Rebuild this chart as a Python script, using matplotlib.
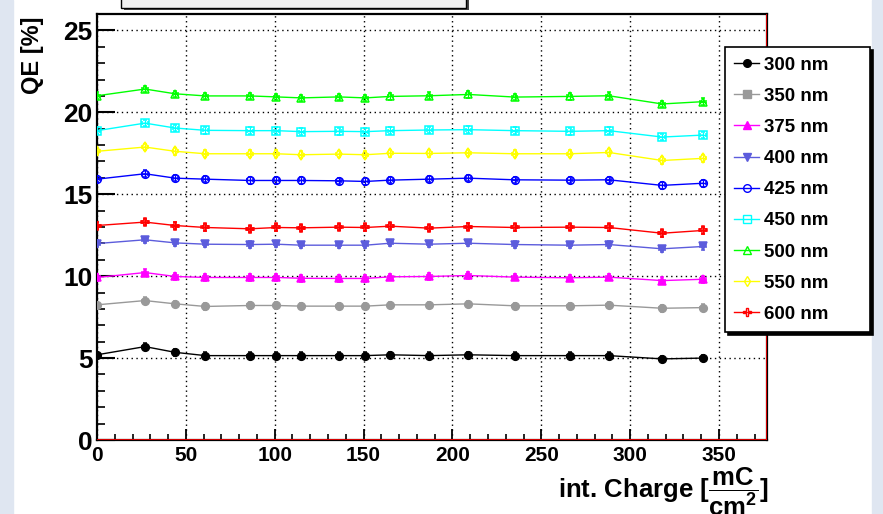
import matplotlib
matplotlib.use("Agg")
import matplotlib.pyplot as plt
import numpy as np
from matplotlib.lines import Line2D
from matplotlib.patches import Rectangle
from matplotlib.ticker import MultipleLocator

plt.rcParams.update({
    "font.family": ["Liberation Sans", "DejaVu Sans"],
    "font.weight": "bold",
    "mathtext.fontset": "custom",
    "mathtext.rm": "Liberation Sans:bold",
    "mathtext.bf": "Liberation Sans:bold",
    "mathtext.it": "Liberation Sans:bold",
})

charge = [0, 27, 44, 61, 86, 101, 115, 136, 151, 165, 187, 209, 235, 266, 288, 318, 341]

qe_300 = [5.20, 5.70, 5.35, 5.15, 5.15, 5.15, 5.15, 5.15, 5.15, 5.20, 5.15, 5.20, 5.15, 5.15, 5.15, 4.95, 5.00]
qe_350 = [8.25, 8.51, 8.31, 8.15, 8.21, 8.21, 8.17, 8.17, 8.17, 8.25, 8.25, 8.31, 8.19, 8.19, 8.23, 8.04, 8.08]
qe_375 = [9.92, 10.22, 9.98, 9.92, 9.92, 9.92, 9.87, 9.86, 9.86, 9.96, 9.98, 10.04, 9.94, 9.90, 9.94, 9.73, 9.81]
qe_400 = [11.99, 12.22, 12.03, 11.95, 11.93, 11.95, 11.89, 11.89, 11.89, 12.01, 11.95, 12.01, 11.93, 11.89, 11.93, 11.67, 11.81]
qe_425 = [15.92, 16.25, 15.98, 15.92, 15.84, 15.84, 15.84, 15.82, 15.78, 15.86, 15.92, 15.98, 15.88, 15.86, 15.88, 15.54, 15.67]
qe_450 = [18.88, 19.34, 19.04, 18.90, 18.88, 18.88, 18.82, 18.84, 18.82, 18.88, 18.92, 18.94, 18.88, 18.84, 18.88, 18.49, 18.61]
qe_500 = [21.01, 21.42, 21.13, 21.00, 21.00, 20.94, 20.88, 20.94, 20.88, 20.97, 21.01, 21.09, 20.93, 20.97, 21.01, 20.51, 20.65]
qe_550 = [17.62, 17.88, 17.62, 17.47, 17.47, 17.47, 17.41, 17.45, 17.41, 17.50, 17.49, 17.53, 17.47, 17.47, 17.55, 17.06, 17.19]
qe_600 = [13.09, 13.30, 13.09, 12.97, 12.89, 12.97, 12.95, 12.99, 12.97, 13.05, 12.93, 13.03, 12.97, 12.99, 12.97, 12.62, 12.79]

labels = ["300 nm", "350 nm", "375 nm", "400 nm", "425 nm", "450 nm", "500 nm", "550 nm", "600 nm"]
series = [qe_300, qe_350, qe_375, qe_400, qe_425, qe_450, qe_500, qe_550, qe_600]
colors = ["black", "#999999", "#ff00ff", "#5c5cdc", "#0000ff", "#00ffff", "#00ff00", "#ffff00", "#ff0000"]
markers = ["o", "s", "^", "v", "o", "s", "^", "d", "P"]
filled = [True, True, True, True, False, False, False, False, False]
plot_markers = ["o", "o", "^", "v", "o", "s", "^", "d", "P"]

fig = plt.figure(figsize=(8.83, 5.14), dpi=100)
fig.patch.set_facecolor("white")
bg = "#dfe6f1"
fig.patches.append(Rectangle((0, 0), 13 / 883, 1, transform=fig.transFigure, color=bg, zorder=-5))
fig.patches.append(Rectangle((872 / 883, 0), 11 / 883, 1, transform=fig.transFigure, color=bg, zorder=-5))

# cut-off title box at the top
fig.patches.append(Rectangle((124 / 883, 1 - 10 / 514), 345 / 883, 0.05, transform=fig.transFigure,
                             facecolor="#444444", edgecolor="none", zorder=1))
fig.patches.append(Rectangle((121 / 883, 1 - 7.5 / 514), 345 / 883, 0.05, transform=fig.transFigure,
                             facecolor="#f0f0f0", edgecolor="black", lw=1, zorder=2))

ax = fig.add_axes([97 / 883, 1 - 440 / 514, 670 / 883, 426 / 514])
xmax = 377

for y, lab, c, m, f in zip(series, labels, colors, plot_markers, filled):
    ax.errorbar(charge, y, yerr=0.2, xerr=1.5, color=c, marker=m, markersize=5.5 if m != "d" else 5,
                mfc=c if f else "none", mec=c, mew=1.1, lw=1, elinewidth=0.9, capsize=1.5,
                label=lab, zorder=3)

ax.set_xlim(0, xmax)
ax.set_ylim(0, 26)
ax.xaxis.set_major_locator(MultipleLocator(50))
ax.xaxis.set_minor_locator(MultipleLocator(10))
ax.yaxis.set_major_locator(MultipleLocator(5))
ax.yaxis.set_minor_locator(MultipleLocator(1))
ax.tick_params(axis="y", which="major", direction="in", length=13, width=1.5, labelsize=19, pad=3)
ax.tick_params(axis="y", which="minor", direction="in", length=6, width=1.2)
ax.tick_params(axis="x", which="major", direction="in", length=8, width=1.3, labelsize=15, pad=4)
ax.tick_params(axis="x", which="minor", direction="in", length=4, width=1.2)
ax.grid(True, which="major", color="black", linestyle=(0, (1, 2.5)), linewidth=1)
for s in ax.spines.values():
    s.set_linewidth(1.6)
ax.axvline(xmax - 0.7, color="red", lw=0.6, zorder=4)
ax.axhline(0.04, color="red", lw=0.6, zorder=4)

fig.text(32 / 883, 1 - 55 / 514, "QE [%]", rotation=90, ha="center", va="center", fontsize=17, fontweight="bold")
fig.text(769 / 883, 1 - 498 / 514, r"int. Charge [$\dfrac{\mathbf{mC}}{\mathbf{cm^2}}$]",
         ha="right", va="baseline", fontsize=18.5, fontweight="bold")

handles = [Line2D([0], [0], color=c, marker=m, markersize=5.5, mfc=c if f else "none", mec=c, lw=1)
           for c, m, f in zip(colors, markers, filled)]
leg = fig.legend(handles, labels, loc="upper left",
                 bbox_to_anchor=(725 / 883, 1 - 330 / 514, 145 / 883, 283 / 514), mode="expand",
                 fontsize=13.5, frameon=True, fancybox=False, edgecolor="black", framealpha=1,
                 labelspacing=0.75, handlelength=1.3, handletextpad=0.3, borderpad=0.5,
                 borderaxespad=0, shadow={"color": "black", "alpha": 1})
leg.get_frame().set_linewidth(1.2)
for t in leg.get_texts():
    t.set_fontweight("bold")

fig.savefig("out.png", dpi=100)
